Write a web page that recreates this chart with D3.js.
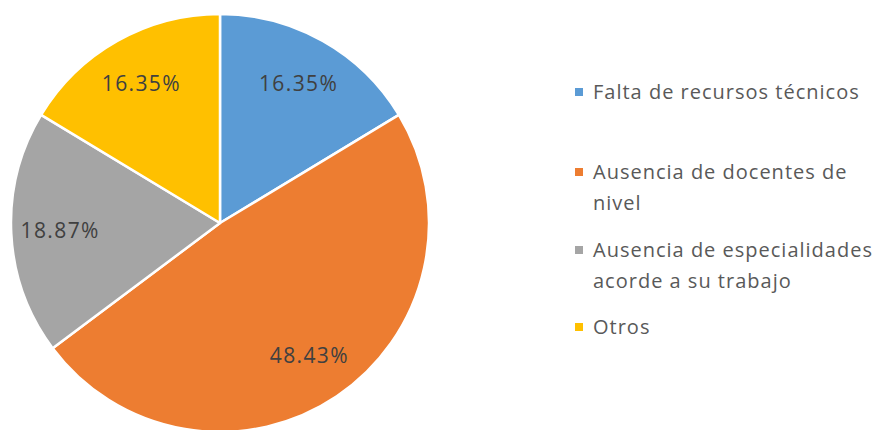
<!DOCTYPE html>
<html>
<head>
<meta charset="utf-8">
<script src="https://cdn.jsdelivr.net/npm/d3@7"></script>
<style>
  body { margin: 0; background: #fff; }
  svg { display: block; }
</style>
</head>
<body>
<div id="chart"></div>
<script>
const categories = [
    ["Falta de recursos técnicos"],
    ["Ausencia de docentes de", "nivel"],
    ["Ausencia de especialidades", "acorde a su trabajo"],
    ["Otros"]
];
const values = [16.35, 48.43, 18.87, 16.35];
const colors = ["#5B9BD5", "#ED7D31", "#A5A5A5", "#FFC000"];

const width = 880;
const height = 430;
const cx = 220, cy = 223, radius = 209;

const svg = d3.select("#chart")
.append("svg")
.attr("width", width)
.attr("height", height);

const pie = d3.pie().sort(null).value(d => d);
const arcs = pie(values);

const arc = d3.arc().innerRadius(0).outerRadius(radius);
const labelArc = d3.arc().innerRadius(160).outerRadius(160);

const g = svg.append("g").attr("transform", `translate(${cx},${cy})`);

g.selectAll("path")
.data(arcs)
.enter()
.append("path")
.attr("d", arc)
.attr("fill", (d, i) => colors[i])
.attr("stroke", "#fff")
.attr("stroke-width", 2.5)
.attr("stroke-linejoin", "round");

g.selectAll("text")
.data(arcs)
.enter()
.append("text")
.attr("transform", d => `translate(${labelArc.centroid(d)})`)
.attr("text-anchor", "middle")
.attr("dy", "0.36em")
.style("font-family", "'Open Sans', sans-serif")
.style("font-size", "21px")
.style("letter-spacing", "1.4px")
.style("fill", "#404040")
.text(d => d.data.toFixed(2) + "%");

// legend
const legendY = [92, 172, 250, 327];
const legend = svg.append("g").attr("id", "legend");

categories.forEach((lines, i) => {
    legend.append("rect")
    .attr("x", 575)
    .attr("y", legendY[i] - 4)
    .attr("width", 8)
    .attr("height", 8)
    .attr("fill", colors[i]);

    const t = legend.append("text")
    .attr("x", 593)
    .attr("y", legendY[i])
    .style("font-family", "'Open Sans', sans-serif")
    .style("font-size", "20px")
    .style("letter-spacing", "1px")
    .style("fill", "#595959");

    lines.forEach((line, j) => {
        t.append("tspan")
        .attr("x", 593)
        .attr("dy", j == 0 ? "0.36em" : "31px")
        .text(line);
    });
});
</script>
</body>
</html>
